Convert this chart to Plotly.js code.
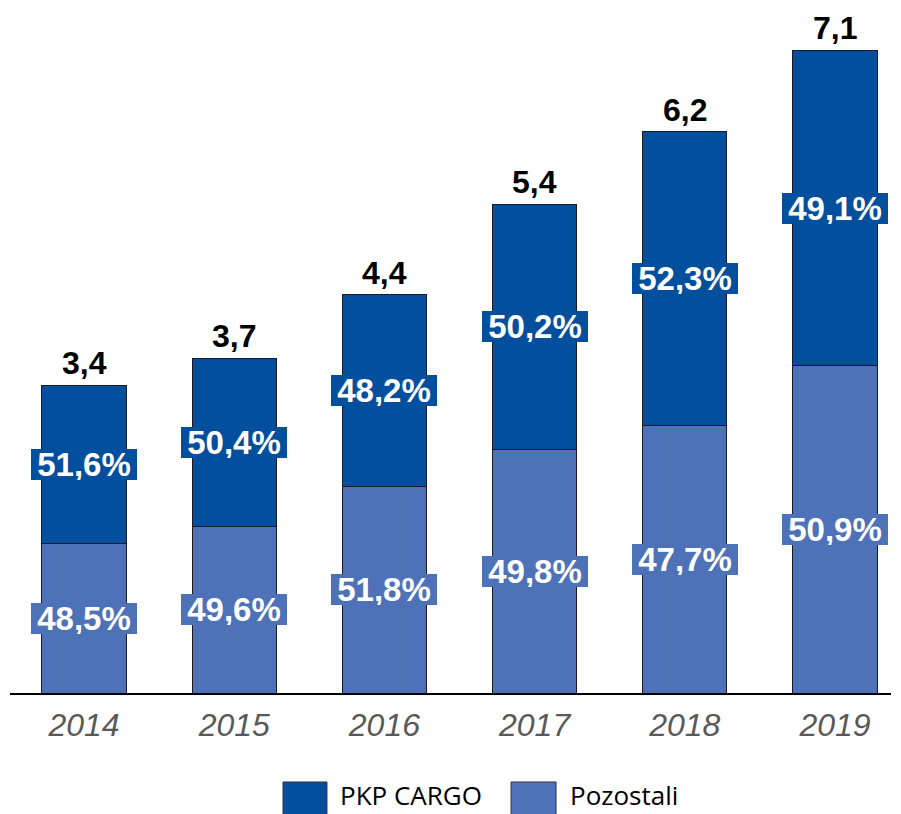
<!DOCTYPE html>
<html>
<head>
<meta charset="utf-8">
<script src="https://cdn.plot.ly/plotly-3.0.1.min.js"></script>
<style>html,body{margin:0;padding:0;background:#fff;}#chart{width:901px;height:814px;}</style>
</head>
<body>
<div id="chart"></div>
<script>
var years = ['2014', '2015', '2016', '2017', '2018', '2019'];
var totals = [3.4, 3.7, 4.4, 5.4, 6.2, 7.1];
var pkpPct = [51.6, 50.4, 48.2, 50.2, 52.3, 49.1];
var otherPct = [48.5, 49.6, 51.8, 49.8, 47.7, 50.9];
var seriesNames = ['PKP CARGO', 'Pozostali'];

var darkBlue = '#024F9E';
var lightBlue = '#4E72B8';

var otherVals = totals.map(function (t, i) { return t * otherPct[i] / 100; });
var pkpVals = totals.map(function (t, i) { return t - otherVals[i]; });

function fmt(v, d) { return v.toFixed(d).replace('.', ','); }

var traces = [
  {
    type: 'bar', name: seriesNames[1], x: years, y: otherVals,
    marker: { color: lightBlue, line: { color: '#1a1a2a', width: 1 } },
    width: 0.56, hoverinfo: 'skip'
  },
  {
    type: 'bar', name: seriesNames[0], x: years, y: pkpVals,
    marker: { color: darkBlue, line: { color: '#1a1a2a', width: 1 } },
    width: 0.56, hoverinfo: 'skip'
  }
];

var pctFont = { family: 'Liberation Sans, Arial, sans-serif', size: 33, color: '#ffffff' };
var annotations = [];
years.forEach(function (yr, i) {
  annotations.push({
    x: i, y: otherVals[i] / 2, xref: 'x', yref: 'y',
    text: '<b>' + fmt(otherPct[i], 1) + '%</b>', showarrow: false,
    font: pctFont, bgcolor: lightBlue, borderpad: 0, borderwidth: 0, width: 106, height: 31
  });
  annotations.push({
    x: i, y: otherVals[i] + pkpVals[i] / 2, xref: 'x', yref: 'y',
    text: '<b>' + fmt(pkpPct[i], 1) + '%</b>', showarrow: false,
    font: pctFont, bgcolor: darkBlue, borderpad: 0, borderwidth: 0, width: 106, height: 31
  });
  annotations.push({
    x: i, y: totals[i], xref: 'x', yref: 'y',
    text: '<b>' + fmt(totals[i], 1) + '</b>', showarrow: false, yanchor: 'bottom', yshift: 2,
    font: { family: 'Liberation Sans, Arial, sans-serif', size: 32, color: '#000000' }
  });
});

// custom legend
var legendItems = [
  { name: seriesNames[0], color: darkBlue, x0: 0.3099, x1: 0.3598, tx: 0.3723 },
  { name: seriesNames[1], color: lightBlue, x0: 0.5687, x1: 0.6198, tx: 0.6334 }
];
var shapes = [];
legendItems.forEach(function (it) {
  shapes.push({
    type: 'rect', xref: 'paper', yref: 'paper', x0: it.x0, x1: it.x1, y0: -0.1346, y1: -0.215,
    fillcolor: it.color, line: { color: '#333344', width: 1 }
  });
  annotations.push({
    xref: 'paper', yref: 'paper', x: it.tx, y: -0.155, xanchor: 'left', yanchor: 'middle',
    text: it.name, showarrow: false,
    font: { family: 'Open Sans, sans-serif', size: 26, color: '#000000' }
  });
});

var layout = {
  width: 901, height: 814,
  margin: { l: 10, r: 10, t: 32, b: 121 },
  paper_bgcolor: '#ffffff', plot_bgcolor: '#ffffff',
  barmode: 'stack',
  showlegend: false,
  xaxis: {
    type: 'category', range: [-0.493, 5.373],
    showline: true, linecolor: '#000000', linewidth: 2,
    showgrid: false, zeroline: false, ticks: '',
    tickfont: { family: 'Liberation Sans, Arial, sans-serif', size: 32, color: '#595959', style: 'italic' },
    ticklabelstandoff: 3
  },
  yaxis: {
    range: [0, 7.304], visible: false, showgrid: false, zeroline: false
  },
  annotations: annotations,
  shapes: shapes
};

Plotly.newPlot('chart', traces, layout, { displayModeBar: false, staticPlot: true });
</script>
</body>
</html>
